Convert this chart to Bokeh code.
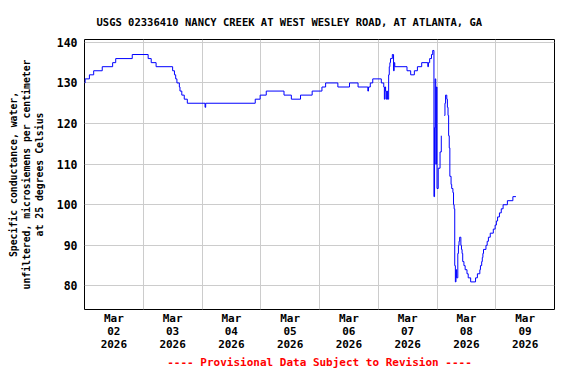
import pandas as pd
import numpy as np
from datetime import datetime, timedelta
from bokeh.plotting import figure
from bokeh.models import Range1d, FixedTicker, DatetimeTickFormatter, Title
from bokeh.embed import file_html
from bokeh.resources import INLINE

# ---- data (change points of 15-minute record) ----
times = [
    "2026-03-02 00:00", "2026-03-02 00:15", "2026-03-02 02:00", "2026-03-02 03:45",
    "2026-03-02 07:15", "2026-03-02 11:30", "2026-03-02 12:45", "2026-03-02 19:30",
    "2026-03-03 02:00", "2026-03-03 03:15", "2026-03-03 05:15", "2026-03-03 12:00",
    "2026-03-03 12:45", "2026-03-03 13:15", "2026-03-03 13:45", "2026-03-03 14:45",
    "2026-03-03 15:00", "2026-03-03 15:45", "2026-03-03 16:45", "2026-03-03 18:00",
    "2026-03-04 01:15", "2026-03-04 01:30", "2026-03-04 21:45", "2026-03-04 23:45",
    "2026-03-05 02:15", "2026-03-05 09:30", "2026-03-05 12:30", "2026-03-05 16:15",
    "2026-03-05 21:00",
    "2026-03-06 01:00", "2026-03-06 02:30", "2026-03-06 07:30", "2026-03-06 12:15",
    "2026-03-06 15:45", "2026-03-06 19:45", "2026-03-06 20:00", "2026-03-06 20:45",
    "2026-03-06 21:45",
    "2026-03-07 01:15", "2026-03-07 02:15", "2026-03-07 02:30", "2026-03-07 02:45",
    "2026-03-07 03:00", "2026-03-07 03:15", "2026-03-07 03:30", "2026-03-07 03:45",
    "2026-03-07 04:15", "2026-03-07 04:30", "2026-03-07 04:45", "2026-03-07 05:00",
    "2026-03-07 05:45", "2026-03-07 06:15", "2026-03-07 06:30", "2026-03-07 06:45",
    "2026-03-07 11:45", "2026-03-07 13:15", "2026-03-07 14:45", "2026-03-07 16:00",
    "2026-03-07 17:45", "2026-03-07 20:15", "2026-03-07 20:30", "2026-03-07 21:00",
    "2026-03-07 21:45", "2026-03-07 22:15", "2026-03-07 22:45", "2026-03-07 23:00",
    "2026-03-07 23:15", "2026-03-07 23:30", "2026-03-07 23:45",
    "2026-03-08 00:00", "2026-03-08 00:30", "2026-03-08 01:15", "2026-03-08 01:45",
    "2026-03-08 02:00",
    "2026-03-08 03:00", "2026-03-08 03:15", "2026-03-08 03:30", "2026-03-08 04:00",
    "2026-03-08 04:15", "2026-03-08 04:30", "2026-03-08 04:45", "2026-03-08 05:00",
    "2026-03-08 05:15", "2026-03-08 05:45", "2026-03-08 06:00", "2026-03-08 06:30",
    "2026-03-08 06:45", "2026-03-08 07:00", "2026-03-08 07:15", "2026-03-08 07:30",
    "2026-03-08 07:45", "2026-03-08 08:00", "2026-03-08 08:30", "2026-03-08 08:45",
    "2026-03-08 09:00", "2026-03-08 09:15", "2026-03-08 09:45", "2026-03-08 10:00",
    "2026-03-08 10:15", "2026-03-08 10:30", "2026-03-08 11:00", "2026-03-08 11:30",
    "2026-03-08 12:15", "2026-03-08 12:45", "2026-03-08 13:45", "2026-03-08 15:45",
    "2026-03-08 16:30", "2026-03-08 17:30", "2026-03-08 17:45", "2026-03-08 18:15",
    "2026-03-08 18:30", "2026-03-08 18:45", "2026-03-08 19:00", "2026-03-08 20:00",
    "2026-03-08 20:30", "2026-03-08 21:00", "2026-03-08 21:45", "2026-03-08 23:00",
    "2026-03-08 23:45",
    "2026-03-09 00:15", "2026-03-09 00:45", "2026-03-09 01:30", "2026-03-09 02:15",
    "2026-03-09 03:00", "2026-03-09 04:45", "2026-03-09 07:00", "2026-03-09 08:15",
]
values = [
    130, 131, 132, 133,
    134, 135, 136, 137,
    136, 135, 134, 133,
    132, 131, 130, 129,
    128, 127, 126, 125,
    124, 125, 126, 127,
    128, 127, 126, 127,
    128,
    129, 130, 129, 130,
    129, 128, 129, 130,
    131,
    130, 129, 126, 129,
    128, 126, 128, 126,
    132, 134, 135, 136,
    137, 133, 135, 134,
    133, 132, 133, 134,
    135, 134, 135, 136,
    137, 138, 102, 119,
    131, 110, 129,
    104, 109, 113, 117,
    np.nan,
    122, 125, 127, 126,
    124, 122, 117, 114,
    107, 105, 104, 103,
    100, 99, 85, 81,
    84, 82, 88, 90,
    91, 92, 90, 89,
    88, 86, 85, 84,
    83, 82, 81, 82,
    83, 84, 85, 86,
    87, 88, 89, 90,
    91, 92, 93, 94,
    95,
    96, 97, 98, 99,
    100, 101, 102, 102,
]

y_ticks = [80, 90, 100, 110, 120, 130, 140]
day_starts = [datetime(2026, 3, d) for d in range(2, 11)]
title_text = "USGS 02336410 NANCY CREEK AT WEST WESLEY ROAD, AT ATLANTA, GA"
y_label = "Specific conductance, water,\nunfiltered, microsiemens per centimeter\nat 25 degrees Celsius"
footer = "---- Provisional Data Subject to Revision ----"

FONT = "DejaVu Sans Mono"

x = pd.to_datetime(times)

def ms(d):
    return (d - datetime(1970, 1, 1)).total_seconds() * 1000.0

p = figure(
    x_axis_type="datetime",
    width=560, height=368,
    min_border_left=84, min_border_right=6, min_border_top=39, min_border_bottom=52,
    x_range=Range1d(day_starts[0], day_starts[-1]),
    y_range=Range1d(74.2, 140.7),
    output_backend="svg", toolbar_location=None,
)

p.step(x, values, mode="after", line_color="#0000ff", line_width=1)

# title
p.title.text = title_text
p.title.align = "left"
p.title.offset = 12
p.title.standoff = 23
p.title.text_font = FONT
p.title.text_font_size = "10.5px"
p.title.text_font_style = "bold"
p.title.text_color = "black"

# frame
p.outline_line_color = "black"
p.outline_line_width = 1
p.background_fill_color = "white"
p.border_fill_color = "white"

# x axis
noon_ticks = [ms(d + timedelta(hours=12)) for d in day_starts[:-1]]
p.xaxis.ticker = FixedTicker(ticks=noon_ticks)
p.xaxis.formatter = DatetimeTickFormatter(days="%b\n%d\n%Y", hours="%b\n%d\n%Y")
p.xaxis.major_tick_out = 0
p.xaxis.major_tick_in = 0
p.xaxis.minor_tick_out = 0
p.xaxis.minor_tick_in = 0
p.xaxis.axis_line_color = None
p.xaxis.major_label_text_font = FONT
p.xaxis.major_label_text_font_style = "bold"
p.xaxis.major_label_text_font_size = "11px"
p.xaxis.major_label_text_color = "black"
p.xaxis.major_label_text_line_height = 1.0
p.xaxis.major_label_standoff = 2

p.xgrid.ticker = FixedTicker(ticks=[ms(d) for d in day_starts])
p.xgrid.grid_line_color = "#cccccc"
p.xgrid.grid_line_width = 1

# footer note below the axis
p.add_layout(Title(
    text=footer, align="center", standoff=0,
    text_font=FONT, text_font_style="bold", text_font_size="11px",
    text_color="red",
), "below")

# y axis
p.yaxis.ticker = FixedTicker(ticks=y_ticks)
p.yaxis.major_tick_out = 0
p.yaxis.major_tick_in = 0
p.yaxis.minor_tick_out = 0
p.yaxis.minor_tick_in = 0
p.yaxis.axis_line_color = None
p.yaxis.major_label_text_font = FONT
p.yaxis.major_label_text_font_style = "bold"
p.yaxis.major_label_text_font_size = "11.5px"
p.yaxis.major_label_text_color = "black"
p.yaxis.major_label_standoff = 7
p.yaxis.axis_label = y_label
p.yaxis.axis_label_text_font = FONT
p.yaxis.axis_label_text_font_style = "bold"
p.yaxis.axis_label_text_font_size = "9.8px"
p.yaxis.axis_label_text_color = "black"
p.yaxis.axis_label_text_line_height = 1.17
p.yaxis.axis_label_standoff = 9

p.ygrid.grid_line_color = "#cccccc"
p.ygrid.grid_line_width = 1

open("out.html", "w").write(file_html(p, INLINE))
